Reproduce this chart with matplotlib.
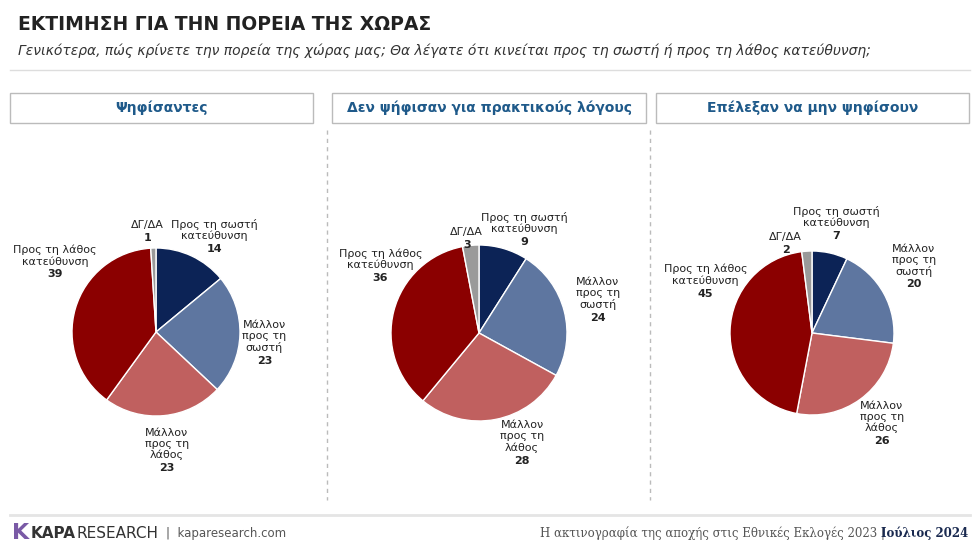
import matplotlib.pyplot as plt
from matplotlib.patches import Rectangle

panel_titles = ['Ψηφίσαντες', 'Δεν ψήφισαν για πρακτικούς λόγους', 'Επέλεξαν να μην ψηφίσουν']
categories = ['Προς τη σωστή\nκατεύθυνση', 'Μάλλον\nπρος τη\nσωστή', 'Μάλλον\nπρος τη\nλάθος',
              'Προς τη λάθος\nκατεύθυνση', 'ΔΓ/ΔΑ']
values = [
    [14, 23, 23, 39, 1],
    [9, 24, 28, 36, 3],
    [7, 20, 26, 45, 2],
]
colors = ['#0c2356', '#5e76a0', '#c0605f', '#8b0000', '#9a9a9a']

W, H = 980, 551
fig = plt.figure(figsize=(W / 100, H / 100), dpi=100)
fig.patch.set_facecolor('white')

def fx(px):
    return px / W

def fy(py):
    return 1 - py / H

fig.text(fx(18), fy(24), 'ΕΚΤΙΜΗΣΗ ΓΙΑ ΤΗΝ ΠΟΡΕΙΑ ΤΗΣ ΧΩΡΑΣ', fontsize=13.5, fontweight='bold',
         color='#222222', va='center')
fig.text(fx(18), fy(51), 'Γενικότερα, πώς κρίνετε την πορεία της χώρας μας; Θα λέγατε ότι κινείται προς τη σωστή ή προς τη λάθος κατεύθυνση;',
         fontsize=10, style='italic', color='#333333', va='center')
fig.add_artist(plt.Line2D([fx(10), fx(970)], [fy(70), fy(70)], color='#dddddd', lw=1))

boxes = [(10, 313), (332, 646), (656, 969)]
for (x0, x1), t in zip(boxes, panel_titles):
    fig.add_artist(Rectangle((fx(x0), fy(123)), fx(x1 - x0), 30 / H, fill=False,
                             ec='#bbbbbb', lw=1, transform=fig.transFigure))
    fig.text(fx((x0 + x1) / 2), fy(108), t, fontsize=10, fontweight='bold',
             color='#1f5a8a', ha='center', va='center')
for x in (327, 650):
    fig.add_artist(plt.Line2D([fx(x), fx(x)], [fy(130), fy(500)], color='#bbbbbb',
                              lw=1, ls=(0, (3, 3))))

# pie centers / radii in pixels, and label centre positions in radius units
centers = [(156, 332, 84), (479, 333, 88), (812, 333, 82)]
label_pos = [
    [(0.70, 1.18), (1.29, -0.07), (0.13, -1.35), (-1.2, 0.88), (-0.1, 1.24)],
    [(0.51, 1.22), (1.35, 0.43), (0.49, -1.19), (-1.12, 0.81), (-0.14, 1.11)],
    [(0.30, 1.38), (1.24, 0.87), (0.85, -1.04), (-1.3, 0.68), (-0.32, 1.13)],
]
line_h = 9.3  # points
for (cx, cy, r), vals, lp in zip(centers, values, label_pos):
    ax = fig.add_axes([fx(cx - r), fy(cy + r), fx(2 * r), 2 * r / H])
    ax.pie(vals, colors=colors, startangle=90, counterclock=False,
           wedgeprops=dict(edgecolor='white', linewidth=1))
    ax.set_xlim(-1, 1)
    ax.set_ylim(-1, 1)
    ax.set_aspect('equal')
    for cat, v, (dx, dy) in zip(categories, vals, lp):
        n = cat.count('\n') + 2
        off = -(n / 2 - 1) * line_h
        ax.annotate(cat, (dx, dy), xytext=(0, off), textcoords='offset points',
                    ha='center', va='baseline', fontsize=8, color='#222222',
                    multialignment='center', annotation_clip=False, linespacing=1.1)
        ax.annotate(str(v), (dx, dy), xytext=(0, off - line_h), textcoords='offset points',
                    ha='center', va='baseline', fontsize=8, fontweight='bold', color='#222222',
                    annotation_clip=False)

fig.add_artist(plt.Line2D([fx(10), fx(970)], [fy(515), fy(515)], color='#e5e5e5', lw=2))
fig.text(fx(12), fy(533), 'K', fontsize=16, fontweight='bold', color='#7a5aa6', va='center')
fig.text(fx(31), fy(533), 'KAPA', fontsize=11, fontweight='bold', color='#333333', va='center')
fig.text(fx(76), fy(533), 'RESEARCH', fontsize=11, color='#333333', va='center')
fig.text(fx(166), fy(533), '|  kaparesearch.com', fontsize=8.5, color='#555555', va='center')
fig.text(fx(885), fy(533), 'Η ακτινογραφία της αποχής στις Εθνικές Εκλογές 2023 |', fontsize=8.5,
         family='DejaVu Serif', color='#555555', ha='right', va='center')
fig.text(fx(968), fy(533), 'Ιούλιος 2024', fontsize=8.5, family='DejaVu Serif', fontweight='bold',
         color='#1a2a50', ha='right', va='center')

fig.savefig('out.png', dpi=100)
